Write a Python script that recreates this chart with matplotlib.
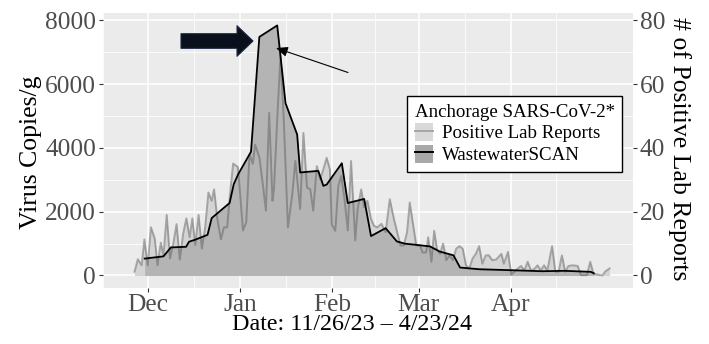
import datetime
import numpy as np
import matplotlib
matplotlib.use("Agg")
import matplotlib.pyplot as plt
import matplotlib.dates as mdates
from matplotlib.patches import Patch
from matplotlib.lines import Line2D

# ---------------- data ----------------
base_date = datetime.date(2023, 12, 1)   # day offsets are relative to this date

ww_day = [-1.0, 5.3, 7.8, 12.9, 13.9, 15.9, 20.1, 21.5, 27.5, 28.9, 30.4, 34.7,
          37.5, 43.5, 46.3, 50.2, 51.2, 57.3, 59.0, 60.1, 65.2, 67.2, 72.7, 75.0,
          79.9, 83.7, 86.5, 89.8, 94.8, 98.1, 102.7, 104.9, 111.3, 122.3, 132.3,
          140.0, 148.8, 149.8]
ww_copies = [530, 600, 880, 900, 1060, 1120, 1275, 1800, 2272, 2860, 3175, 3880,
             7480, 7840, 5400, 4420, 3230, 3280, 2810, 2850, 3520, 2272, 2400, 1236,
             1484, 1067, 996, 965, 912, 750, 632, 249, 196, 165, 134,
             146, 115, 70]

lab_day = [-4.4, -3.3, -2.0, -1.1, 0.0, 1.1, 2.4, 3.3, 4.4, 5.3, 6.4, 7.5, 8.6, 9.7,
           10.8, 11.9, 13.0, 14.1, 15.0, 16.0, 17.1, 18.2, 19.3, 20.4, 21.5, 22.3,
           23.4, 24.6, 25.6, 26.7, 27.6, 28.7, 30.3, 31.1, 32.0, 33.1, 34.2, 35.3,
           36.1, 37.5, 38.6, 39.7, 40.8, 41.9, 42.4, 43.5, 44.6, 45.7, 47.1, 48.5,
           49.6, 51.2, 52.3, 53.5, 54.6, 55.6, 56.8, 57.9, 59.0, 60.1, 61.2, 61.8,
           63.0, 64.0, 65.0, 66.1, 67.2, 68.3, 69.7, 70.5, 71.7, 72.7, 73.8, 75.0,
           76.0, 77.1, 78.5, 79.9, 81.3, 82.7, 83.8, 84.9, 86.0, 87.1, 88.0, 89.0,
           90.2, 91.5, 92.3, 93.5, 94.2, 95.3, 96.2, 97.2, 98.2, 99.2, 100.3, 101.4,
           102.5, 103.6, 104.7, 105.8, 106.9, 108.0, 109.1, 110.2, 111.3, 112.4,
           113.5, 114.6, 115.7, 117.0, 118.0, 118.8, 119.6, 121.0, 122.1, 123.2,
           124.3, 125.4, 126.5, 127.6, 128.7, 129.8, 130.9, 132.0, 133.1, 134.2,
           135.8, 136.9, 138.0, 139.1, 140.2, 141.3, 142.7, 144.4, 145.5, 147.5,
           148.6, 149.7, 151.0, 152.7, 153.7, 155.1]
lab_reports = [1.2, 5.1, 3.2, 11.3, 3.2, 15.1, 11.5, 3.2, 10.3, 6.3, 19, 5.3, 10, 16.1,
               5, 13, 17.9, 12, 17.9, 9.6, 19, 8.4, 15, 26, 23.4, 27,
               17.7, 11.3, 15.1, 15.1, 25, 35.1, 34, 25, 14.1, 16.7, 38, 35,
               41, 37, 29.1, 20.3, 51, 23.4, 27, 48.8, 69, 48.8, 15.1, 25,
               35.9, 20.8, 44.7, 27.6, 27, 20.3, 34.3, 30.2, 33.3, 36.9, 33.3, 16,
               14, 28, 31.2, 23.9, 14.1, 35.9, 11, 20.8, 27, 21.4, 23.4, 17.7,
               15.6, 15.1, 16.2, 13.6, 23.9, 17.7, 13.6, 9.4, 9.4, 13.6, 22.9, 16.7,
               9.4, 9.4, 7.2, 7.2, 12, 4.3, 14, 8, 6.8, 10, 4.8, 6.3,
               4.8, 8.4, 9.2, 8.4, 3.2, 2.2, 5.3, 6.8, 9.2, 3.7,
               6.3, 6.3, 4.8, 5, 6, 6.8, 3.7, 7.4, 0.3, 1.2,
               2.2, 3, 1.6, 4.3, 1.6, 2, 3.2, 1.6, 3.2, 1.6,
               9.2, 1.2, 1.2, 6.3, 1.2, 3, 3.2, 3, 0.1, 0.1,
               4.3, 0.6, 0.3, 0, 1.3, 2.2]

month_ticks = ["2023-12-01", "2024-01-01", "2024-02-01", "2024-03-01", "2024-04-01"]
month_labels = ["Dec", "Jan", "Feb", "Mar", "Apr"]
left_ticks = [0, 2000, 4000, 6000, 8000]
right_ticks = [0, 20, 40, 60, 80]
lab_scale = 100  # secondary axis: reports * 100 = copies/g

# ---------------- figure ----------------
plt.rcParams['font.family'] = ['Liberation Serif', 'DejaVu Serif']
W, H = 709, 344
fig = plt.figure(figsize=(W / 100, H / 100), dpi=100)
ax = fig.add_axes([103 / W, (H - 288) / H, (633 - 103) / W, (288 - 13) / H])
ax.set_facecolor('#ebebeb')

b = mdates.date2num(base_date)
ww_x = b + np.array(ww_day)
lab_x = b + np.array(lab_day)
lab_y = np.array(lab_reports) * lab_scale

ax.fill_between(lab_x, 0, lab_y, color='#d4d4d4', lw=0, zorder=2)
ax.fill_between(ww_x, 0, ww_copies, color='#b4b4b4', lw=0, zorder=3)
ax.plot(lab_x, lab_y, color='#606060', alpha=0.5, lw=1.4, zorder=4)
ax.plot(ww_x, ww_copies, color='black', lw=1.3, zorder=5)

ax.set_xlim(b - 12.23, b - 12.23 + 175.2)
ax.set_ylim(-392, 8230)

maj = [mdates.datestr2num(d) for d in month_ticks]
ax.set_xticks(maj)
ax.set_xticklabels(month_labels)
minx = [(maj[i] + maj[i + 1]) / 2 for i in range(len(maj) - 1)]
minx = [maj[0] - 15] + minx + [maj[-1] + 15]
ax.set_xticks(minx, minor=True)
ax.set_yticks(left_ticks)
ax.set_yticks([1000, 3000, 5000, 7000], minor=True)
ax.grid(which='major', color='white', lw=1.1, zorder=0)
ax.grid(which='minor', color='white', lw=0.55, zorder=0)
ax.set_axisbelow(True)
for s in ax.spines.values():
    s.set_visible(False)
ax.tick_params(which='minor', length=0)
ax.tick_params(which='major', length=3, width=0.8, color='#333333',
               labelcolor='#4d4d4d', labelsize=18.3, pad=2)
ax.tick_params(axis='x', which='major', pad=1)

ax2 = ax.twinx()
ax2.set_ylim(np.array(ax.get_ylim()) / lab_scale)
ax2.set_yticks(right_ticks)
for s in ax2.spines.values():
    s.set_visible(False)
ax2.tick_params(which='major', length=3, width=0.8, color='#333333',
                labelcolor='#4d4d4d', labelsize=18.3, pad=2)

ax.set_ylabel('Virus Copies/g', fontsize=18.5)
ax.yaxis.set_label_coords(-0.115, 0.493)
ax2.set_ylabel('# of Positive Lab Reports', fontsize=18.5, rotation=270, va='bottom')
ax2.yaxis.set_label_coords(1.066, 0.505)
ax.set_xlabel('Date: 11/26/23 \u2013 4/23/24', fontsize=17.3)
ax.xaxis.set_label_coords(0.469, -0.095)

# legend
h1 = (Patch(facecolor='#d9d9d9', edgecolor='none'), Line2D([], [], color='#a6a6a6', lw=1.4))
h2 = (Patch(facecolor='#a9a9a9', edgecolor='none'), Line2D([], [], color='black', lw=1.4))
leg = ax.legend([h1, h2], ['Positive Lab Reports', 'WastewaterSCAN'],
                title='Anchorage SARS-CoV-2*', loc='upper left',
                bbox_to_anchor=(407 / W, 1 - 96 / H), bbox_transform=fig.transFigure,
                borderaxespad=0, fancybox=False, framealpha=1, edgecolor='black',
                fontsize=13.6, title_fontsize=13.6, handlelength=1.0,
                handleheight=1.1, labelspacing=0.12, handletextpad=0.45,
                borderpad=0.4, alignment='left')
leg.get_frame().set_linewidth(1.0)
leg.set_zorder(10)

# annotation arrows (figure pixel positions)
ax.annotate('', xy=(253, H - 41), xytext=(181, H - 41), xycoords='figure pixels',
            textcoords='figure pixels',
            arrowprops=dict(arrowstyle='simple,head_length=1.15,head_width=2.2,tail_width=1.05',
                            mutation_scale=10, fc='#0a0f1c', ec='#1c2640', lw=0.8,
                            shrinkA=0, shrinkB=0), zorder=11)
ax.annotate('', xy=(276, H - 48), xytext=(348, H - 72.5), xycoords='figure pixels',
            textcoords='figure pixels',
            arrowprops=dict(arrowstyle='-|>,head_length=0.7,head_width=0.3',
                            mutation_scale=10, fc='black', ec='black', lw=0.8,
                            shrinkA=0, shrinkB=0), zorder=11)

fig.savefig('out.png', dpi=100)
